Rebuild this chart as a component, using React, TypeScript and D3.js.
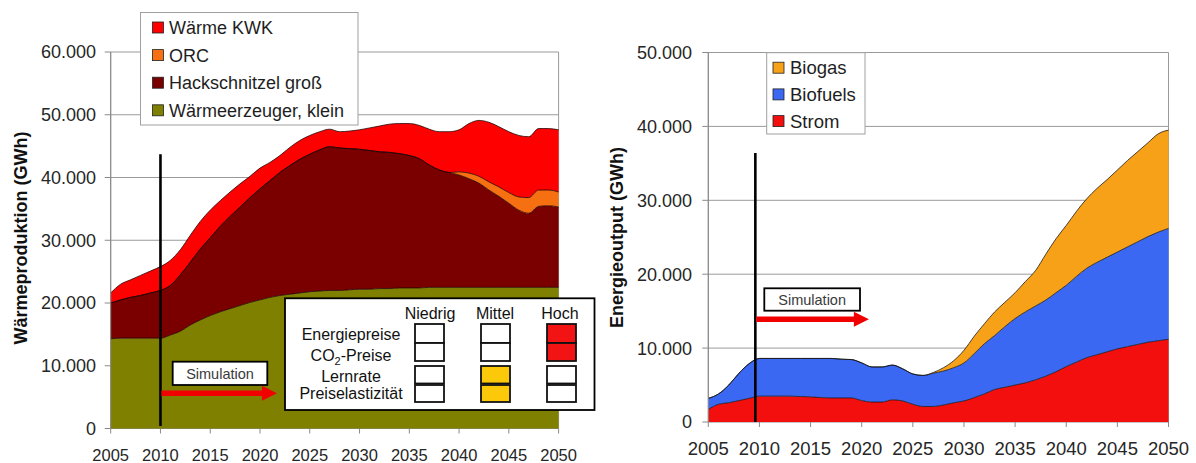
import React from "react";
import * as d3 from "d3";

const years = [
  2005, 2006, 2007, 2008, 2009, 2010, 2011, 2012, 2013, 2014,
  2015, 2016, 2017, 2018, 2019, 2020, 2021, 2022, 2023, 2024,
  2025, 2026, 2027, 2028, 2029, 2030, 2031, 2032, 2033, 2034,
  2035, 2036, 2037, 2038, 2039, 2040, 2041, 2042, 2043, 2044,
  2045, 2046, 2047, 2048, 2049, 2050,
];

// Left chart (thousand GWh)
const waermeKlein = [
  14.3, 14.4, 14.4, 14.4, 14.4, 14.4, 14.9, 15.5, 16.5, 17.3,
  18.0, 18.6, 19.1, 19.6, 20.1, 20.5, 20.9, 21.2, 21.4, 21.6,
  21.8, 21.9, 22.0, 22.0, 22.1, 22.2, 22.2, 22.3, 22.3, 22.4,
  22.4, 22.4, 22.5, 22.5, 22.5, 22.5, 22.5, 22.5, 22.5, 22.5,
  22.5, 22.5, 22.5, 22.5, 22.5, 22.5,
];
const hackschnitzel = [
  5.7, 6.1, 6.5, 6.8, 7.2, 7.6, 7.9, 9.0, 10.0, 11.3,
  12.4, 13.6, 14.7, 15.7, 16.7, 17.7, 18.6, 19.6, 20.5, 21.3,
  21.9, 22.5, 22.9, 22.7, 22.5, 22.3, 22.1, 21.8, 21.7, 21.4,
  21.1, 20.6, 19.5, 18.7, 18.3, 17.9, 17.3, 16.6, 15.5, 14.5,
  13.4, 12.3, 11.8, 12.9, 13.0, 12.8,
];
const orc = [
  0, 0, 0, 0, 0, 0, 0, 0, 0, 0,
  0, 0, 0, 0, 0, 0, 0, 0, 0, 0,
  0, 0, 0, 0, 0, 0, 0, 0, 0, 0,
  0, 0, 0, 0, 0, 0.5, 0.9, 1.1, 1.3, 1.5,
  1.7, 2.1, 2.5, 2.6, 2.5, 2.4,
];
const waermeKWK = [
  1.6, 2.5, 2.8, 3.2, 3.5, 3.8, 4.0, 4.0, 4.3, 4.4,
  4.4, 4.1, 3.9, 3.7, 3.4, 3.3, 2.9, 2.7, 2.9, 3.0,
  3.0, 2.9, 2.8, 2.6, 2.8, 3.1, 3.6, 4.1, 4.5, 4.8,
  5.1, 5.3, 5.7, 6.1, 6.5, 6.7, 7.9, 8.9, 9.5, 9.6,
  9.7, 9.8, 9.7, 9.8, 9.8, 9.9,
];

// Right chart (thousand GWh)
const strom = [
  1.7, 2.4, 2.6, 2.9, 3.2, 3.5, 3.5, 3.5, 3.5, 3.45,
  3.4, 3.3, 3.25, 3.25, 3.25, 2.9, 2.7, 2.7, 3.0, 2.85,
  2.4, 2.1, 2.1, 2.3, 2.6, 2.85, 3.3, 3.8, 4.4, 4.7,
  5.0, 5.3, 5.7, 6.2, 6.8, 7.5, 8.1, 8.7, 9.1, 9.5,
  9.9, 10.2, 10.5, 10.8, 11.0, 11.2,
];
const biofuels = [
  1.5, 1.4, 2.4, 3.7, 4.7, 5.1, 5.1, 5.1, 5.1, 5.15,
  5.2, 5.3, 5.35, 5.25, 5.2, 5.1, 4.75, 4.75, 4.7, 4.35,
  4.1, 4.2, 4.5, 4.6, 4.75, 5.15, 5.95, 6.8, 7.3, 8.2,
  9.0, 9.6, 10.0, 10.3, 10.7, 11.0, 11.6, 12.1, 12.5, 12.8,
  13.1, 13.5, 13.9, 14.3, 14.7, 15.0,
];
const biogas = [
  0, 0, 0, 0, 0, 0, 0, 0, 0, 0,
  0, 0, 0, 0, 0, 0, 0, 0, 0, 0,
  0, 0, 0.1, 0.45, 0.95, 1.7, 2.35, 2.7, 3.2, 3.3,
  3.5, 4.1, 4.8, 6.2, 7.3, 8.1, 8.8, 9.4, 10.0, 10.5,
  11.1, 11.7, 12.2, 12.7, 13.3, 13.3,
];

const xTicks = [2005, 2010, 2015, 2020, 2025, 2030, 2035, 2040, 2045, 2050];
const yTicksL = [0, 10, 20, 30, 40, 50, 60];
const yTickLabelsL = ["0", "10.000", "20.000", "30.000", "40.000", "50.000", "60.000"];
const yTicksR = [0, 10, 20, 30, 40, 50];
const yTickLabelsR = ["0", "10.000", "20.000", "30.000", "40.000", "50.000"];

const leftKeys = ["klein", "hack", "orc", "kwk"];
const leftLabels = ["Wärme KWK", "ORC", "Hackschnitzel groß", "Wärmeerzeuger, klein"];
const leftColors: Record<string, string> = {
  klein: "#7f7f00",
  hack: "#7a0000",
  orc: "#f66f10",
  kwk: "#fe0000",
};
const leftLegendKeys = ["kwk", "orc", "hack", "klein"];

const rightKeys = ["strom", "biofuels", "biogas"];
const rightLabels = ["Biogas", "Biofuels", "Strom"];
const rightLegendKeys = ["biogas", "biofuels", "strom"];
const rightColors: Record<string, string> = {
  strom: "#f40f0f",
  biofuels: "#3a68f2",
  biogas: "#f7a119",
};

const scenarioCols = ["Niedrig", "Mittel", "Hoch"];
const scenarioRows = ["Energiepreise", "CO2-Preise", "Lernrate", "Preiselastizität"];
const scenarioSel = [2, 2, 1, 1];

const FONT = "'Liberation Sans', Arial, Helvetica, sans-serif";

const leftTable = years.map((y, i) => ({
  year: y,
  klein: waermeKlein[i],
  hack: hackschnitzel[i],
  orc: orc[i],
  kwk: waermeKWK[i],
}));
const rightTable = years.map((y, i) => ({
  year: y,
  strom: strom[i],
  biofuels: biofuels[i],
  biogas: biogas[i],
}));

function Axes({ x, y, yTicks, yLabels, xFont, xBase, yLabelX, x0, x1, y0, y1 }: any) {
  return (
    <g>
      {yTicks.map((t: number, i: number) =>
        t > 0 ? (
          <line key={"g" + t} x1={x0} x2={x1} y1={y(t)} y2={y(t)} stroke="#9a9a9a" strokeWidth={1} />
        ) : null
      )}
      <line x1={x1} x2={x1} y1={y1} y2={y0} stroke="#9a9a9a" strokeWidth={1} />
      <line x1={x0} x2={x0} y1={y1} y2={y0} stroke="#8a8a8a" strokeWidth={1} />
      <line x1={x0} x2={x1} y1={y0} y2={y0} stroke="#8a8a8a" strokeWidth={1} />
      {yTicks.map((t: number, i: number) => (
        <g key={"yt" + t}>
          <line x1={x0 - 6} x2={x0} y1={y(t)} y2={y(t)} stroke="#8a8a8a" />
          <text x={yLabelX} y={y(t)} dy="0.36em" textAnchor="end" fontSize={18} fill="#262626" fontFamily={FONT}>
            {yLabels[i]}
          </text>
        </g>
      ))}
      {xTicks.map((t) => (
        <g key={"xt" + t}>
          <line x1={x(t)} x2={x(t)} y1={y0} y2={y0 + 5} stroke="#8a8a8a" />
          <text x={x(t)} y={xBase} textAnchor="middle" fontSize={xFont} fill="#262626" fontFamily={FONT}>
            {t}
          </text>
        </g>
      ))}
    </g>
  );
}

function SimArrow({ xStart, xEnd, yv, boxX, boxY, boxW, boxH }: any) {
  const headLen = 15;
  return (
    <g>
      <rect x={boxX} y={boxY} width={boxW} height={boxH} fill="#fff" stroke="#000" strokeWidth={1.8} />
      <text x={boxX + boxW / 2} y={boxY + boxH / 2} dy="0.36em" textAnchor="middle" fontSize={14.5} fill="#3a3a3a" fontFamily={FONT}>
        Simulation
      </text>
      <line x1={xStart} x2={xEnd - headLen + 1} y1={yv} y2={yv} stroke="#f20000" strokeWidth={5.5} />
      <path d={`M${xEnd - headLen},${yv - 7.5} L${xEnd},${yv} L${xEnd - headLen},${yv + 7.5} Z`} fill="#f20000" />
    </g>
  );
}

export default function App() {
  // Left chart
  const lx0 = 110.7, lx1 = 558.6, ly0 = 428.5, ly1 = 52;
  const xL = d3.scaleLinear().domain([2005, 2050]).range([lx0, lx1]);
  const yL = d3.scaleLinear().domain([0, 60]).range([ly0, ly1]);
  const stackL = d3.stack<any>().keys(leftKeys)(leftTable);
  const areaL = d3
    .area<any>()
    .x((d) => xL(d.data.year))
    .y0((d) => yL(d[0]))
    .y1((d) => yL(d[1]))
    .curve(d3.curveMonotoneX);
  const lineL = d3
    .line<any>()
    .x((d) => xL(d.data.year))
    .y((d) => yL(d[1]))
    .curve(d3.curveMonotoneX);

  // Right chart
  const rx0 = 708.3, rx1 = 1168.5, ry0 = 422, ry1 = 52.5;
  const xR = d3.scaleLinear().domain([2005, 2050]).range([rx0, rx1]);
  const yR = d3.scaleLinear().domain([0, 50]).range([ry0, ry1]);
  const stackR = d3.stack<any>().keys(rightKeys)(rightTable);
  const areaR = d3
    .area<any>()
    .x((d) => xR(d.data.year))
    .y0((d) => yR(d[0]))
    .y1((d) => yR(d[1]))
    .curve(d3.curveMonotoneX);
  const lineR = d3
    .line<any>()
    .x((d) => xR(d.data.year))
    .y((d) => yR(d[1]))
    .curve(d3.curveMonotoneX);

  const colX = [415, 481, 547];
  const colC = [430, 495, 560];
  const rowY = [324, 343, 366, 385];
  const rowH = [19, 18, 17.5, 17];
  const rowBase = [340, 360.5, 381.5, 399];

  return (
    <svg
      width={1196}
      height={463}
      style={{ position: "absolute", left: 0, top: 0, background: "#fff" }}
      fontFamily={FONT}
    >
      <rect x={0} y={0} width={1196} height={463} fill="#fff" />

      {/* ---------- Left chart ---------- */}
      <Axes x={xL} y={yL} yTicks={yTicksL} yLabels={yTickLabelsL} xFont={16.5} xBase={461}
        yLabelX={96} x0={lx0} x1={lx1} y0={ly0} y1={ly1} />
      {stackL.map((s) => (
        <path key={s.key} d={areaL(s) || ""} fill={leftColors[s.key]} />
      ))}
      {stackL.map((s) => (
        <path key={"l" + s.key} d={lineL(s) || ""} fill="none" stroke="#1a0000" strokeWidth={1} strokeOpacity={0.75} />
      ))}
      <line x1={lx0} x2={lx0} y1={ly1} y2={ly0} stroke="#8a8a8a" strokeWidth={1} />
      <text transform={`translate(27,238) rotate(-90)`} textAnchor="middle" fontSize={18} fontWeight="bold" fill="#111">
        Wärmeproduktion (GWh)
      </text>

      {/* legend left */}
      <rect x={140.5} y={12.5} width={217.5} height={112.5} fill="#fff" stroke="#a0a0a0" strokeWidth={1} />
      {leftLegendKeys.map((k, i) => (
        <g key={"lg" + k}>
          <rect x={152.5} y={27.5 + i * 27.6 - 5.5} width={11} height={11} fill={leftColors[k]} stroke="#222" strokeWidth={0.8} />
          <text x={169} y={27.5 + i * 27.6} dy="0.36em" fontSize={18} fill="#1e1e1e">
            {leftLabels[i]}
          </text>
        </g>
      ))}

      {/* simulation marker left */}
      <line x1={xL(2010)} x2={xL(2010)} y1={yL(43.7)} y2={yL(0.4)} stroke="#000" strokeWidth={2.6} />
      <SimArrow xStart={xL(2010) + 1} xEnd={xL(2021.7)} yv={yL(5.6)} boxX={172.7} boxY={361.7} boxW={94.6} boxH={23.3} />

      {/* scenario table */}
      <rect x={285} y={298.3} width={309.5} height={111.7} fill="#fff" stroke="#000" strokeWidth={1.8} />
      {scenarioCols.map((c, j) => (
        <text key={c} x={colC[j]} y={319} textAnchor="middle" fontSize={16} fill="#111">
          {c}
        </text>
      ))}
      {scenarioRows.map((r, i) => (
        <g key={r}>
          <text x={351} y={rowBase[i]} textAnchor="middle" fontSize={16} fill="#111">
            {r === "CO2-Preise" ? (
              <>
                CO<tspan fontSize={11} dy={4}>2</tspan>
                <tspan dy={-4}>-Preise</tspan>
              </>
            ) : (
              r
            )}
          </text>
          {scenarioCols.map((c, j) => (
            <rect
              key={c}
              x={colX[j]}
              y={rowY[i]}
              width={29}
              height={rowH[i]}
              fill={scenarioSel[i] === j ? (j === 2 ? "#f21414" : "#fcc80a") : "#fff"}
              stroke="#111"
              strokeWidth={1.8}
            />
          ))}
        </g>
      ))}

      {/* ---------- Right chart ---------- */}
      <Axes x={xR} y={yR} yTicks={yTicksR} yLabels={yTickLabelsR} xFont={18.5} xBase={455}
        yLabelX={692} x0={rx0} x1={rx1} y0={ry0} y1={ry1} />
      {stackR.map((s) => (
        <path key={s.key} d={areaR(s) || ""} fill={rightColors[s.key]} />
      ))}
      {stackR.map((s) => (
        <path key={"l" + s.key} d={lineR(s) || ""} fill="none" stroke="#101010" strokeWidth={1} strokeOpacity={0.75} />
      ))}
      <line x1={rx0} x2={rx0} y1={ry1} y2={ry0} stroke="#8a8a8a" strokeWidth={1} />
      <text transform={`translate(623,237.5) rotate(-90)`} textAnchor="middle" fontSize={18} fontWeight="bold" fill="#111">
        Energieoutput (GWh)
      </text>

      {/* legend right */}
      <rect x={766.7} y={52.7} width={98.3} height={81.3} fill="#fff" stroke="#a0a0a0" strokeWidth={1} />
      {rightLegendKeys.map((k, i) => (
        <g key={"rg" + k}>
          <rect x={773} y={67.7 + i * 26.7 - 5.5} width={11} height={11} fill={rightColors[k]} stroke="#222" strokeWidth={0.8} />
          <text x={790} y={67.7 + i * 26.7} dy="0.36em" fontSize={18.5} fill="#1e1e1e">
            {rightLabels[i]}
          </text>
        </g>
      ))}

      {/* simulation marker right */}
      <line x1={xR(2009.6)} x2={xR(2009.6)} y1={yR(36.4)} y2={yR(0)} stroke="#000" strokeWidth={2.6} />
      <SimArrow xStart={xR(2009.6) + 1} xEnd={xR(2020.7)} yv={yR(13.9)} boxX={764.3} boxY={288.3} boxW={95.7} boxH={22.4} />
    </svg>
  );
}
